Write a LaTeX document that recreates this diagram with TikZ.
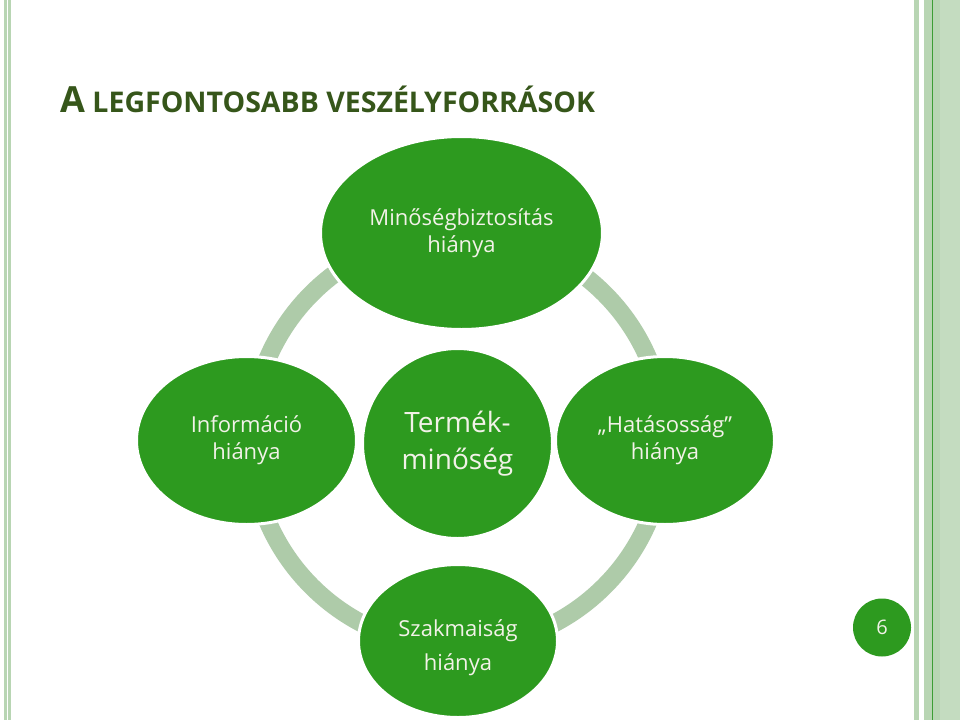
\documentclass[tikz,border=0pt]{standalone}
\usepackage{fontspec}
\setmainfont{Open Sans}
\usetikzlibrary{shapes.geometric}
\definecolor{leafgreen}{HTML}{2D9A1F}
\definecolor{ringgreen}{HTML}{AECBA9}
\definecolor{bubbletext}{HTML}{F2F2E8}
\definecolor{titlegreen}{HTML}{36561A}
\definecolor{stripegreen}{HTML}{B8D5B3}
\definecolor{stripelight}{HTML}{C4DCC0}
\definecolor{stripedark}{HTML}{3C9D34}
\begin{document}
\begin{tikzpicture}[x=1pt,y=-1pt,
  bubble/.style={ellipse, fill=leafgreen, draw=white, line width=3pt, inner sep=0pt,
    align=center, text=bubbletext, font=\fontsize{22}{27}\selectfont},
  ringstyle/.style={draw=ringgreen, line width=18pt},
  stripe/.style={fill=stripegreen},
  numbadge/.style={circle, fill=leafgreen, minimum size=58pt, inner sep=0pt,
    text=bubbletext, font=\fontsize{20}{22}\selectfont}
]
\useasboundingbox (0,0) rectangle (960,720);
\fill[white] (0,0) rectangle (960,720);
% page stripes
\fill[stripe] (4,0) rectangle (6.5,720);
\fill[stripe] (8,0) rectangle (11,720);
\fill[stripe] (914,0) rectangle (919,720);
\fill[stripe] (924,0) rectangle (960,720);
\fill[stripelight] (940,0) rectangle (960,720);
\fill[stripedark] (931.5,0) rectangle (933,720);
% title
\node[anchor=base west, text=titlegreen, inner sep=0pt, font=\bfseries] (title) at (60,112)
  {\fontsize{36}{40}\selectfont A\fontsize{28.5}{32}\selectfont\ LEGFONTOSABB VESZÉLYFORRÁSOK};
% ring
\draw[ringstyle] (458,440) circle[radius=207pt];
% bubbles
\node[bubble, minimum width=282pt, minimum height=193pt] (top) at (461.5,233)
  {Minőségbiztosítás\\hiánya};
\node[bubble, minimum width=220pt, minimum height=168pt] (left) at (246.5,440.5)
  {Információ\\hiánya};
\node[bubble, minimum width=190pt, minimum height=190pt, font=\fontsize{28}{37}\selectfont] (center) at (457.5,443.5)
  {Termék-\\minőség};
\node[bubble, minimum width=219pt, minimum height=168pt] (right) at (665,440.5)
  {„Hatásosság”\\hiánya};
\node[bubble, minimum width=199pt, minimum height=153pt, font=\fontsize{22}{34}\selectfont] (bottom) at (458,641)
  {\rule{0pt}{30pt}Szakmaiság\\hiánya};
% slide number
\node[numbadge] (num) at (882,627.5) {6};
\end{tikzpicture}
\end{document}
